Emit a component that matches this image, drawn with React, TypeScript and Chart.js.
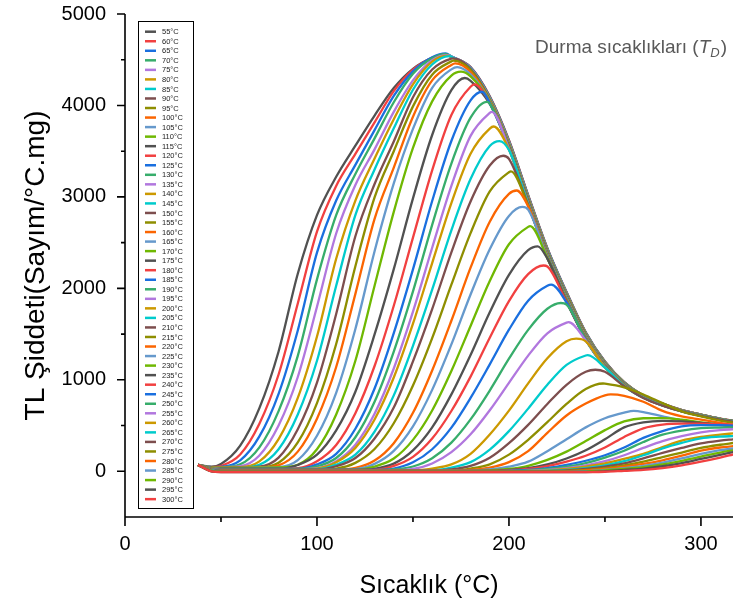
import React, { useEffect, useRef } from 'react';
import { Chart, registerables } from 'chart.js';

Chart.register(...registerables);

// ---------------- DATA ----------------
const tdLabels = [
  '55°C', '60°C', '65°C', '70°C', '75°C', '80°C', '85°C', '90°C', '95°C', '100°C',
  '105°C', '110°C', '115°C', '120°C', '125°C', '130°C', '135°C', '140°C', '145°C', '150°C',
  '155°C', '160°C', '165°C', '170°C', '175°C', '180°C', '185°C', '190°C', '195°C', '200°C',
  '205°C', '210°C', '215°C', '220°C', '225°C', '230°C', '235°C', '240°C', '245°C', '250°C',
  '255°C', '260°C', '265°C', '270°C', '275°C', '280°C', '285°C', '290°C', '295°C', '300°C',
];

// temperature grid (°C) shared by all glow curves
const tempGrid = [38, 45, 50, 60, 70, 80, 90, 100, 110, 120, 130, 140, 150, 160, 170, 180, 190, 200, 210, 220, 230, 240, 250, 260, 270, 280, 290, 300, 310, 317];

// TL intensity read on the grid, one row per stop temperature
const tlCurves: number[][] = [
  [70, 50, 80, 280, 690, 1310, 2160, 2800, 3220, 3560, 3890, 4190, 4400, 4520, 4532, 4420, 4100, 3620, 3020, 2440, 1960, 1520, 1200, 975, 830, 740, 670, 620, 575, 550],
  [70, 45, 58, 184, 520, 1058, 1834, 2620, 3120, 3470, 3815, 4156, 4391, 4520, 4532, 4417, 4095, 3614, 3014, 2435, 1956, 1517, 1198, 974, 829, 739, 670, 620, 575, 550],
  [70, 45, 48, 119, 381, 847, 1540, 2390, 2960, 3350, 3730, 4104, 4373, 4527, 4538, 4414, 4089, 3608, 3008, 2430, 1951, 1514, 1196, 972, 828, 739, 669, 619, 574, 549],
  [70, 45, 45, 76, 262, 658, 1262, 2098, 2800, 3250, 3640, 4035, 4346, 4515, 4536, 4410, 4084, 3602, 3003, 2426, 1947, 1510, 1193, 971, 827, 738, 668, 619, 574, 549],
  [70, 44, 44, 55, 173, 501, 1031, 1799, 2600, 3130, 3520, 3930, 4274, 4495, 4535, 4407, 4078, 3596, 2997, 2421, 1942, 1507, 1191, 969, 826, 737, 668, 618, 574, 549],
  [70, 43, 43, 45, 108, 352, 802, 1474, 2324, 2960, 3420, 3850, 4231, 4479, 4527, 4395, 4073, 3590, 2991, 2416, 1938, 1504, 1189, 968, 826, 737, 668, 618, 573, 548],
  [70, 42, 42, 42, 71, 241, 621, 1208, 2028, 2800, 3300, 3750, 4172, 4448, 4533, 4401, 4068, 3584, 2985, 2411, 1934, 1501, 1187, 966, 825, 736, 667, 617, 573, 548],
  [70, 41, 41, 41, 50, 150, 460, 970, 1720, 2570, 3141, 3606, 4090, 4393, 4513, 4398, 4062, 3578, 2979, 2406, 1929, 1498, 1184, 965, 824, 735, 667, 617, 573, 548],
  [70, 40, 40, 40, 42, 94, 316, 746, 1392, 2242, 2994, 3500, 3990, 4337, 4482, 4387, 4057, 3572, 2974, 2402, 1925, 1494, 1182, 963, 823, 734, 666, 616, 572, 547],
  [70, 40, 39, 39, 41, 65, 215, 575, 1140, 1940, 2760, 3320, 3877, 4274, 4443, 4366, 4051, 3566, 2968, 2397, 1920, 1491, 1180, 962, 822, 734, 665, 616, 572, 547],
  [70, 38, 38, 38, 40, 45, 122, 388, 858, 1556, 2406, 3147, 3744, 4193, 4395, 4340, 4046, 3560, 2962, 2392, 1916, 1488, 1178, 961, 821, 733, 665, 615, 572, 547],
  [70, 37, 37, 37, 40, 42, 71, 241, 621, 1208, 2028, 2836, 3535, 4045, 4327, 4318, 4041, 3554, 2956, 2387, 1912, 1485, 1175, 959, 820, 732, 664, 615, 571, 546],
  [70, 36, 28, 28, 28, 28, 69, 181, 447, 869, 1496, 2210, 2984, 3677, 4167, 4270, 4016, 3548, 2950, 2382, 1907, 1482, 1173, 958, 819, 732, 664, 615, 571, 546],
  [70, 35, 27, 27, 27, 27, 34, 110, 288, 635, 1151, 1810, 2555, 3291, 3896, 4205, 4030, 3542, 2945, 2378, 1903, 1478, 1171, 956, 818, 731, 663, 614, 570, 545],
  [70, 34, 26, 26, 26, 26, 26, 75, 191, 465, 905, 1511, 2208, 2955, 3611, 4055, 4024, 3536, 2939, 2373, 1898, 1475, 1169, 955, 817, 730, 663, 614, 570, 545],
  [70, 33, 25, 25, 25, 25, 25, 53, 145, 372, 760, 1309, 1967, 2695, 3365, 3866, 4019, 3530, 2933, 2368, 1894, 1472, 1166, 953, 816, 729, 662, 613, 570, 545],
  [70, 32, 24, 24, 24, 24, 24, 35, 110, 291, 629, 1124, 1745, 2444, 3120, 3667, 3918, 3524, 2927, 2363, 1890, 1469, 1164, 952, 816, 729, 662, 613, 569, 544],
  [70, 31, 23, 23, 23, 23, 23, 30, 98, 256, 566, 1025, 1614, 2277, 2933, 3472, 3747, 3518, 2921, 2358, 1885, 1466, 1162, 950, 815, 728, 661, 612, 569, 544],
  [70, 30, 22, 22, 22, 22, 22, 22, 72, 181, 433, 830, 1372, 1986, 2635, 3195, 3556, 3512, 2916, 2354, 1881, 1462, 1160, 949, 814, 727, 661, 612, 569, 544],
  [70, 29, 21, 21, 21, 21, 21, 21, 55, 145, 359, 697, 1201, 1773, 2394, 2950, 3343, 3416, 2910, 2349, 1876, 1459, 1157, 947, 813, 727, 661, 611, 568, 543],
  [70, 28, 20, 20, 20, 20, 20, 20, 30, 92, 243, 525, 938, 1456, 2040, 2604, 3060, 3270, 2904, 2344, 1872, 1456, 1155, 946, 812, 726, 660, 611, 568, 543],
  [70, 27, 19, 19, 19, 19, 19, 19, 19, 37, 117, 307, 639, 1102, 1646, 2226, 2729, 3033, 2898, 2339, 1868, 1453, 1153, 945, 811, 725, 660, 611, 568, 543],
  [70, 26, 18, 18, 18, 18, 18, 18, 18, 23, 81, 223, 491, 890, 1387, 1933, 2428, 2792, 2861, 2334, 1863, 1450, 1151, 943, 810, 725, 659, 610, 567, 542],
  [70, 25, 17, 17, 17, 17, 17, 17, 17, 17, 51, 139, 343, 665, 1096, 1589, 2080, 2482, 2672, 2330, 1859, 1446, 1148, 942, 809, 724, 659, 610, 567, 542],
  [70, 24, 16, 16, 16, 16, 16, 16, 16, 16, 27, 84, 229, 480, 841, 1272, 1739, 2148, 2418, 2325, 1854, 1443, 1146, 940, 808, 723, 658, 609, 567, 542],
  [70, 23, 15, 15, 15, 15, 15, 15, 15, 15, 16, 59, 158, 358, 659, 1035, 1460, 1861, 2156, 2239, 1850, 1440, 1144, 939, 808, 723, 658, 609, 566, 541],
  [70, 22, 14, 14, 14, 14, 14, 14, 14, 14, 14, 30, 98, 241, 477, 802, 1169, 1548, 1865, 2028, 1846, 1437, 1142, 937, 807, 722, 657, 608, 566, 541],
  [70, 21, 13, 13, 13, 13, 13, 13, 13, 13, 13, 20, 52, 142, 313, 567, 883, 1231, 1546, 1777, 1822, 1434, 1139, 936, 806, 721, 657, 608, 566, 541],
  [70, 20, 12, 12, 12, 12, 12, 12, 12, 12, 12, 12, 25, 85, 209, 404, 667, 967, 1265, 1509, 1625, 1430, 1137, 934, 805, 720, 656, 607, 565, 540],
  [70, 19, 11, 11, 11, 11, 11, 11, 11, 11, 11, 11, 11, 30, 75, 191, 402, 663, 961, 1235, 1421, 1421, 1135, 933, 804, 720, 655, 607, 565, 540],
  [70, 18, 10, 10, 10, 10, 10, 10, 10, 10, 10, 10, 10, 10, 40, 100, 237, 439, 685, 946, 1163, 1266, 1133, 932, 803, 719, 655, 606, 565, 540],
  [70, 17, 9, 9, 9, 9, 9, 9, 9, 9, 9, 9, 9, 9, 20, 58, 147, 307, 507, 736, 946, 1088, 1088, 930, 802, 718, 654, 606, 564, 539],
  [70, 16, 8, 8, 8, 8, 8, 8, 8, 8, 8, 8, 8, 8, 8, 30, 76, 182, 344, 537, 737, 900, 958, 918, 840, 745, 655, 600, 555, 530],
  [70, 15, 7, 7, 7, 7, 7, 7, 7, 7, 7, 7, 7, 7, 7, 15, 40, 100, 220, 420, 610, 740, 830, 825, 760, 660, 600, 565, 530, 505],
  [70, 14, 6, 6, 6, 6, 6, 6, 6, 6, 6, 6, 6, 6, 6, 8, 20, 50, 105, 220, 350, 480, 580, 640, 648, 600, 555, 525, 505, 490],
  [70, 13, 5, 5, 5, 5, 5, 5, 5, 5, 5, 5, 5, 5, 5, 5, 10, 25, 60, 125, 215, 330, 450, 545, 580, 582, 565, 535, 510, 495],
  [70, 12, 4, 4, 4, 4, 4, 4, 4, 4, 4, 4, 4, 4, 4, 4, 4, 15, 35, 75, 140, 230, 350, 480, 535, 552, 545, 530, 510, 495],
  [70, 11, 3, 3, 3, 3, 3, 3, 3, 3, 3, 3, 3, 3, 3, 3, 3, 10, 25, 55, 105, 170, 260, 375, 470, 510, 520, 520, 515, 510],
  [70, 10, 2, 2, 2, 2, 2, 2, 2, 2, 2, 2, 2, 2, 2, 2, 2, 5, 15, 35, 70, 115, 175, 260, 365, 440, 492, 505, 503, 500],
  [70, 9, 1, 1, 1, 1, 1, 1, 1, 1, 1, 1, 1, 1, 1, 1, 1, 3, 10, 25, 50, 90, 150, 225, 320, 400, 445, 472, 478, 480],
  [70, 8, 0, 0, 0, 0, 0, 0, 0, 0, 0, 0, 0, 0, 0, 0, 0, 0, 5, 15, 35, 65, 110, 175, 255, 330, 385, 425, 450, 460],
  [70, 7, -1, -1, -1, -1, -1, -1, -1, -1, -1, -1, -1, -1, -1, -1, -1, -1, 3, 10, 25, 50, 85, 135, 190, 265, 335, 375, 400, 415],
  [70, 6, -2, -2, -2, -2, -2, -2, -2, -2, -2, -2, -2, -2, -2, -2, -2, -2, -2, 5, 15, 35, 65, 110, 175, 250, 310, 360, 378, 385],
  [70, 5, -3, -3, -3, -3, -3, -3, -3, -3, -3, -3, -3, -3, -3, -3, -3, -3, -3, 2, 10, 25, 50, 85, 140, 200, 255, 305, 335, 350],
  [70, 4, -4, -4, -4, -4, -4, -4, -4, -4, -4, -4, -4, -4, -4, -4, -4, -4, -4, -4, 5, 15, 35, 65, 105, 155, 205, 255, 290, 310],
  [70, 3, -5, -5, -5, -5, -5, -5, -5, -5, -5, -5, -5, -5, -5, -5, -5, -5, -5, -5, 0, 10, 25, 50, 80, 120, 170, 225, 260, 275],
  [70, 2, -6, -6, -6, -6, -6, -6, -6, -6, -6, -6, -6, -6, -6, -6, -6, -6, -6, -6, -6, 0, 15, 35, 60, 95, 140, 190, 230, 250],
  [70, 1, -7, -7, -7, -7, -7, -7, -7, -7, -7, -7, -7, -7, -7, -7, -7, -7, -7, -7, -7, -3, 10, 25, 45, 75, 115, 160, 205, 230],
  [70, 0, -8, -8, -8, -8, -8, -8, -8, -8, -8, -8, -8, -8, -8, -8, -8, -8, -8, -8, -8, -8, 0, 15, 30, 55, 90, 135, 180, 210],
  [70, -2, -10, -10, -10, -10, -10, -10, -10, -10, -10, -10, -10, -10, -10, -10, -10, -10, -10, -10, -10, -10, -5, 5, 15, 35, 65, 105, 150, 185],
];

// glow peak (position, height) of each curve, where one is visible
const peakTemps: (number | null)[] = [
  166, 166, 167, 167, 168, 168, 169, 171, 171, 172, 173, 175, 177, 182, 186, 188.5, 191, 192, 195, 197,
  201, 204, 207, 211, 215, 218, 222, 227, 231, 235, 241, 245, 249, 253, 265,
  null, null, null, null, null, null, null, null, null, null, null, null, null, null, null,
];
const peakValues: (number | null)[] = [
  4555, 4555, 4570, 4560, 4550, 4545, 4540, 4515, 4490, 4460, 4420, 4370, 4300, 4230, 4150, 4040, 3930, 3770, 3610, 3450,
  3280, 3070, 2890, 2680, 2460, 2250, 2040, 1840, 1630, 1450, 1270, 1110, 960, 840, 660,
  null, null, null, null, null, null, null, null, null, null, null, null, null, null, null,
];

const xMajorTicks = [0, 100, 200, 300];
const xMinorTicks = [50, 150, 250];
const yMajorTicks = [0, 1000, 2000, 3000, 4000, 5000];
const yMinorTicks = [500, 1500, 2500, 3500, 4500];

const palette = ['#515151', '#F14040', '#1A6FDF', '#37AD6B', '#B177DE', '#CC9900', '#00CBCC', '#7D4E4E', '#8E8E00', '#FB6501', '#6699CC', '#6FB802'];

const FONT = "'Liberation Sans', Arial, Helvetica, sans-serif";

// ---------------- PLUGIN ----------------
const decorPlugin = {
  id: 'decor',
  afterDraw(chart: any) {
    const { ctx, chartArea, scales } = chart;
    const xs = scales.x;
    const ys = scales.y;
    const { left, right, top, bottom } = chartArea;
    ctx.save();

    // axes
    ctx.strokeStyle = '#000';
    ctx.lineWidth = 1.6;
    ctx.beginPath();
    ctx.moveTo(left, top);
    ctx.lineTo(left, bottom);
    ctx.moveTo(left, bottom);
    ctx.lineTo(right, bottom);
    yMajorTicks.forEach((v) => {
      const p = ys.getPixelForValue(v);
      ctx.moveTo(left, p);
      ctx.lineTo(left - 8, p);
    });
    yMinorTicks.forEach((v) => {
      const p = ys.getPixelForValue(v);
      ctx.moveTo(left, p);
      ctx.lineTo(left - 4, p);
    });
    xMajorTicks.forEach((v) => {
      const p = xs.getPixelForValue(v);
      ctx.moveTo(p, bottom);
      ctx.lineTo(p, bottom + 9);
    });
    xMinorTicks.forEach((v) => {
      const p = xs.getPixelForValue(v);
      ctx.moveTo(p, bottom);
      ctx.lineTo(p, bottom + 5);
    });
    ctx.stroke();

    // axis titles
    ctx.fillStyle = '#000';
    ctx.font = `25px ${FONT}`;
    ctx.textAlign = 'center';
    ctx.textBaseline = 'alphabetic';
    ctx.fillText('Sıcaklık (°C)', (left + right) / 2, 593);
    ctx.save();
    ctx.font = `28px ${FONT}`;
    ctx.translate(36, (top + bottom) / 2);
    ctx.rotate(-Math.PI / 2);
    ctx.textBaseline = 'middle';
    ctx.fillText('TL Şiddeti(Sayım/°C.mg)', 0, 0);
    ctx.restore();

    // annotation
    const base = 53;
    const partA = 'Durma sıcaklıkları (';
    ctx.fillStyle = '#595959';
    ctx.textAlign = 'left';
    ctx.textBaseline = 'alphabetic';
    ctx.font = `19px ${FONT}`;
    const wA = ctx.measureText(partA).width;
    const wClose = ctx.measureText(')').width;
    ctx.font = `italic 19px ${FONT}`;
    const wT = ctx.measureText('T').width;
    ctx.font = `italic 13px ${FONT}`;
    const wD = ctx.measureText('D').width;
    let x0 = 727 - (wA + wT + wD + wClose + 1);
    ctx.font = `19px ${FONT}`;
    ctx.fillText(partA, x0, base);
    x0 += wA;
    ctx.font = `italic 19px ${FONT}`;
    ctx.fillText('T', x0, base);
    x0 += wT;
    ctx.font = `italic 13px ${FONT}`;
    ctx.fillText('D', x0, base + 4);
    x0 += wD + 1;
    ctx.font = `19px ${FONT}`;
    ctx.fillText(')', x0, base);

    // legend
    const bx = 138.5, by = 21.5, bw = 55, bh = 487;
    ctx.fillStyle = '#fff';
    ctx.fillRect(bx, by, bw, bh);
    ctx.strokeStyle = '#000';
    ctx.lineWidth = 1;
    ctx.strokeRect(bx, by, bw, bh);
    ctx.font = `7.5px ${FONT}`;
    ctx.textBaseline = 'middle';
    ctx.textAlign = 'left';
    chart.data.datasets.forEach((ds: any, k: number) => {
      const y = 31.7 + 9.54 * k;
      ctx.strokeStyle = ds.borderColor;
      ctx.lineWidth = 2.5;
      ctx.beginPath();
      ctx.moveTo(145, y);
      ctx.lineTo(156, y);
      ctx.stroke();
      ctx.fillStyle = '#222';
      ctx.fillText(ds.label, 162, y + 0.5);
    });

    ctx.restore();
  },
};

// ---------------- COMPONENT ----------------
export default function App() {
  const canvasRef = useRef<HTMLCanvasElement>(null);

  useEffect(() => {
    const canvas = canvasRef.current;
    if (!canvas) return;
    const n = tdLabels.length;
    const datasets = tdLabels.map((label, i) => {
      const pts = tempGrid.map((x, j) => ({ x, y: tlCurves[i][j] }));
      const pt = peakTemps[i];
      const pv = peakValues[i];
      if (pt != null && pv != null) {
        pts.push({ x: pt, y: pv });
        pts.sort((a, b) => a.x - b.x);
      }
      return {
        label,
        data: pts,
        borderColor: palette[i % palette.length],
        backgroundColor: palette[i % palette.length],
        borderWidth: 2.3,
        pointRadius: 0,
        fill: false,
        cubicInterpolationMode: 'monotone' as const,
        order: n - i,
      };
    });

    const chart = new Chart(canvas, {
      type: 'line',
      data: { datasets },
      options: {
        animation: false,
        responsive: false,
        devicePixelRatio: 1,
        layout: { padding: { top: 14, right: 0, left: 0, bottom: 0 } },
        plugins: {
          legend: { display: false },
          tooltip: { enabled: false },
        },
        scales: {
          x: {
            type: 'linear',
            min: 0,
            max: 316.7,
            grid: { display: false },
            border: { display: false },
            afterBuildTicks: (s: any) => {
              s.ticks = xMajorTicks.map((v) => ({ value: v }));
            },
            afterFit: (s: any) => {
              s.height = 91;
              s.paddingLeft = 0;
              s.paddingRight = 0;
            },
            ticks: {
              padding: 7,
              color: '#000',
              font: { family: FONT, size: 20 },
              maxRotation: 0,
              autoSkip: false,
              callback: (v: any) => String(v),
            },
          },
          y: {
            type: 'linear',
            min: -500,
            max: 5000,
            grid: { display: false },
            border: { display: false },
            afterBuildTicks: (s: any) => {
              s.ticks = yMajorTicks.map((v) => ({ value: v }));
            },
            afterFit: (s: any) => {
              s.width = 125;
              s.paddingTop = 0;
              s.paddingBottom = 0;
            },
            ticks: {
              padding: 11,
              color: '#000',
              font: { family: FONT, size: 20 },
              autoSkip: false,
              callback: (v: any) => String(v),
            },
          },
        },
      } as any,
      plugins: [decorPlugin],
    });
    return () => chart.destroy();
  }, []);

  return (
    <div style={{ position: 'absolute', left: 0, top: 0, width: 733, height: 608, background: '#fff' }}>
      <canvas ref={canvasRef} width={733} height={608} style={{ display: 'block', width: 733, height: 608 }} />
    </div>
  );
}
